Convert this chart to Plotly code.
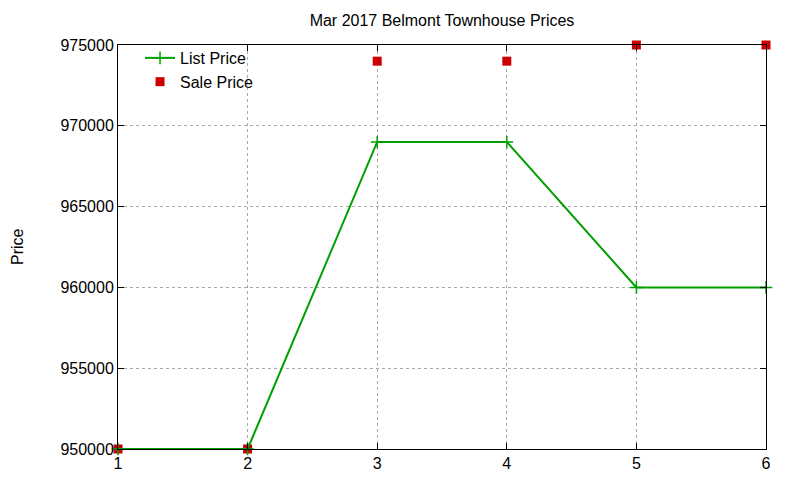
#!/usr/bin/env python3
# -*- coding: utf-8 -*-

import plotly.graph_objects as go

# Dados do gráfico
houses = [1, 2, 3, 4, 5, 6]
list_price = [950000, 950000, 969000, 969000, 960000, 960000]
sale_price = [950000, 950000, 974000, 974000, 975000, 975000]
y_ticks = [950000, 955000, 960000, 965000, 970000, 975000]

title = "Mar 2017 Belmont Townhouse Prices"

font_family = "Liberation Sans, Arial, sans-serif"
font_size = 16
green = "#00a000"
red = "#cc0000"

# A página HTML tem 8px de margem no body; as margens compensam isso
fig = go.Figure()

fig.add_trace(go.Scatter(
    x=houses,
    y=sale_price,
    mode='markers',
    name='Sale Price',
    marker=dict(symbol='square', size=9, color=red),
    cliponaxis=False,
))

fig.add_trace(go.Scatter(
    x=houses,
    y=list_price,
    mode='lines+markers',
    name='List Price',
    line=dict(color=green, width=2),
    marker=dict(symbol='cross-thin', size=9, color=green,
                line=dict(color=green, width=1.5)),
    cliponaxis=False,
))

axis_common = dict(
    showline=True,
    linecolor='black',
    linewidth=1,
    mirror='ticks',
    ticks='inside',
    ticklen=6,
    tickcolor='black',
    showgrid=True,
    gridcolor='#a8a8a8',
    griddash='dot',
    gridwidth=1,
    zeroline=False,
    automargin=False,
    tickfont=dict(family=font_family, size=font_size, color='black'),
)

fig.update_xaxes(
    range=[1, 6],
    tickvals=houses,
    ticktext=[str(h) for h in houses],
    **axis_common
)

fig.update_yaxes(
    range=[950000, 975000],
    tickvals=y_ticks,
    ticktext=[str(v) for v in y_ticks],
    **axis_common
)

# Rótulo do eixo Y (posicionado como no gnuplot)
fig.add_annotation(
    text='Price', textangle=-90,
    xref='paper', yref='paper', x=0, y=0.5,
    xanchor='center', yanchor='middle', xshift=-101,
    showarrow=False,
    font=dict(family=font_family, size=font_size, color='black'),
)

fig.update_layout(
    width=800,
    height=480,
    margin=dict(l=110, r=42, t=37, b=39, autoexpand=False),
    paper_bgcolor='white',
    plot_bgcolor='white',
    title=dict(text=title, x=(118 + 766 - 16) / 2 / 800, xanchor='center',
               y=1 - 12 / 480, yanchor='middle', automargin=False,
               font=dict(family=font_family, size=font_size, color='black')),
    legend=dict(
        x=0.034, y=1.01, xanchor='left', yanchor='top',
        bgcolor='rgba(0,0,0,0)',
        font=dict(family=font_family, size=font_size, color='black'),
        traceorder='reversed',
        tracegroupgap=0,
        itemwidth=30,
    ),
    showlegend=True,
)

fig.write_html("out.html")
